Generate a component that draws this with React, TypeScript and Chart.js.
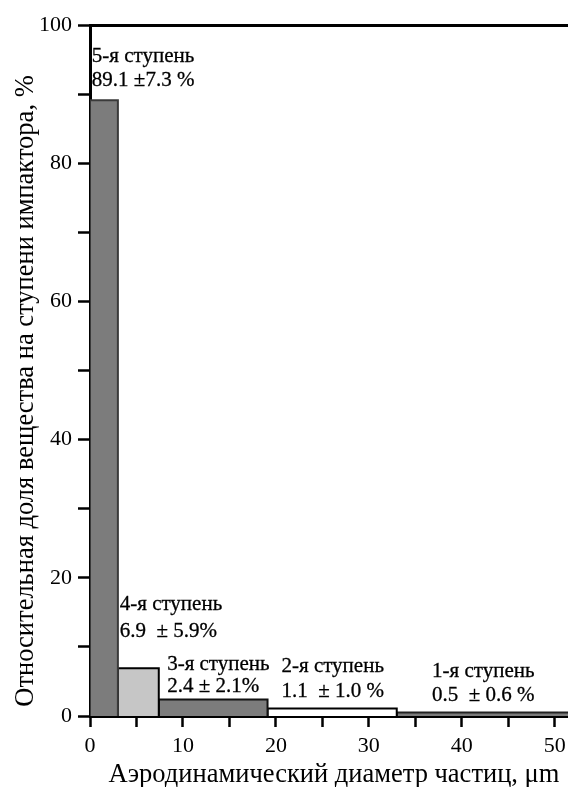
import React, { useEffect, useRef } from "react";
import { Chart, registerables } from "chart.js";

Chart.register(...registerables);

// ---- data ----
const binEdges = [0, 3.0, 7.4, 19.1, 33.0, 60];
const stageValues = [89.1, 6.9, 2.4, 1.1, 0.5];
const stageNames = ["5-я ступень", "4-я ступень", "3-я ступень", "2-я ступень", "1-я ступень"];
const stageTexts = ["89.1 \u00b17.3 %", "6.9  \u00b1 5.9%", "2.4 \u00b1 2.1%", "1.1  \u00b1 1.0 %", "0.5  \u00b1 0.6 %"];
const labelAnchorX = [0.2, 3.2, 8.3, 20.6, 36.8];
const labelAnchorY = [95.4, 16.1, 7.4, 7.1, 6.4];
const labelAnchorY2 = [91.9, 12.2, 4.2, 3.5, 2.9];
const xMajorTicks = [0, 10, 20, 30, 40, 50];
const yMajorTicks = [0, 20, 40, 60, 80, 100];
const xTitle = "Аэродинамический диаметр частиц, \u03bcm";
const yTitle = "Относительная доля вещества на ступени импактора, %";

const fillColors = ["#7c7c7c", "#c6c6c6", "#7c7c7c", "#ffffff", "#7c7c7c"];
const borderColors = ["#3a3a3a", "#000000", "#111111", "#000000", "#222222"];

const SERIF = '"Liberation Serif", "Times New Roman", serif';

export default function App() {
  const ref = useRef<HTMLCanvasElement | null>(null);

  useEffect(() => {
    if (!ref.current) return;
    const datasets = stageValues.map((v, i) => ({
      label: stageNames[i],
      data: [
        { x: binEdges[i], y: 0 },
        { x: binEdges[i], y: v },
        { x: binEdges[i + 1], y: v },
        { x: binEdges[i + 1], y: 0 },
      ],
      fill: "origin",
      backgroundColor: fillColors[i],
      borderColor: borderColors[i],
      borderWidth: 2,
      pointRadius: 0,
      tension: 0,
      xAxisID: "x",
      yAxisID: "y",
    }));

    const annotPlugin = {
      id: "annot",
      afterDraw(chart: any) {
        const ctx = chart.ctx;
        const xs = chart.scales.x;
        const ys = chart.scales.y;
        ctx.save();
        ctx.fillStyle = "#000";
        ctx.strokeStyle = "#000";
        ctx.lineWidth = 0.3;
        ctx.font = `21px ${SERIF}`;
        ctx.textAlign = "left";
        ctx.textBaseline = "middle";
        stageNames.forEach((n, i) => {
          const px = xs.getPixelForValue(labelAnchorX[i]);
          const y1 = ys.getPixelForValue(labelAnchorY[i]);
          const y2 = ys.getPixelForValue(labelAnchorY2[i]);
          ctx.fillText(n, px, y1);
          ctx.strokeText(n, px, y1);
          ctx.fillText(stageTexts[i], px, y2);
          ctx.strokeText(stageTexts[i], px, y2);
        });
        // axis titles
        ctx.font = `26.5px ${SERIF}`;
        ctx.textAlign = "center";
        ctx.textBaseline = "alphabetic";
        ctx.fillText(xTitle, 334, 782);
        ctx.translate(33, 391);
        ctx.rotate(-Math.PI / 2);
        ctx.fillText(yTitle, 0, 0);
        ctx.restore();
      },
    };

    const chart = new Chart(ref.current, {
      type: "line",
      data: { datasets: datasets as any },
      options: {
        responsive: false,
        animation: false,
        layout: { padding: { left: 0, right: 2, top: 0, bottom: 0 } },
        plugins: { legend: { display: false }, tooltip: { enabled: false } },
        scales: {
          x: {
            type: "linear",
            position: "bottom",
            min: 0,
            max: 52.5,
            afterFit: (s: any) => { s.height = 84; },
            afterBuildTicks: (s: any) => {
              const t = [];
              for (let v = 0; v <= 50; v += 5) t.push({ value: v });
              s.ticks = t;
            },
            ticks: {
              autoSkip: false,
              maxRotation: 0,
              color: "#000",
              padding: 6,
              font: { family: SERIF, size: 22 },
              callback: (v: any) => (xMajorTicks.includes(v) ? String(v) : ""),
            },
            grid: { drawOnChartArea: false, drawTicks: true, tickLength: 11, tickWidth: 2.5, tickColor: "#000" },
            border: { display: true, color: "#000", width: 3 },
          },
          xTop: {
            type: "linear",
            position: "top",
            min: 0,
            max: 52.5,
            afterFit: (s: any) => { s.height = 25; },
            ticks: { display: false },
            grid: { drawOnChartArea: false, drawTicks: false },
            border: { display: true, color: "#000", width: 3 },
          },
          y: {
            type: "linear",
            position: "left",
            min: 0,
            max: 100,
            afterFit: (s: any) => { s.width = 90; },
            afterBuildTicks: (s: any) => {
              const t = [];
              for (let v = 0; v <= 100; v += 10) t.push({ value: v });
              s.ticks = t;
            },
            ticks: {
              autoSkip: false,
              color: "#000",
              padding: 6,
              font: { family: SERIF, size: 22 },
              callback: (v: any) => (yMajorTicks.includes(v) ? String(v) : ""),
            },
            grid: { drawOnChartArea: false, drawTicks: true, tickLength: 12, tickWidth: 2.5, tickColor: "#000" },
            border: { display: true, color: "#000", width: 3 },
          },
        },
      },
      plugins: [annotPlugin],
    });
    return () => chart.destroy();
  }, []);

  return (
    <div style={{ position: "fixed", left: 0, top: 0, width: 568, height: 787, overflow: "hidden", background: "#fff" }}>
      <canvas ref={ref} width={580} height={800} style={{ width: 580, height: 800, display: "block" }} />
    </div>
  );
}
